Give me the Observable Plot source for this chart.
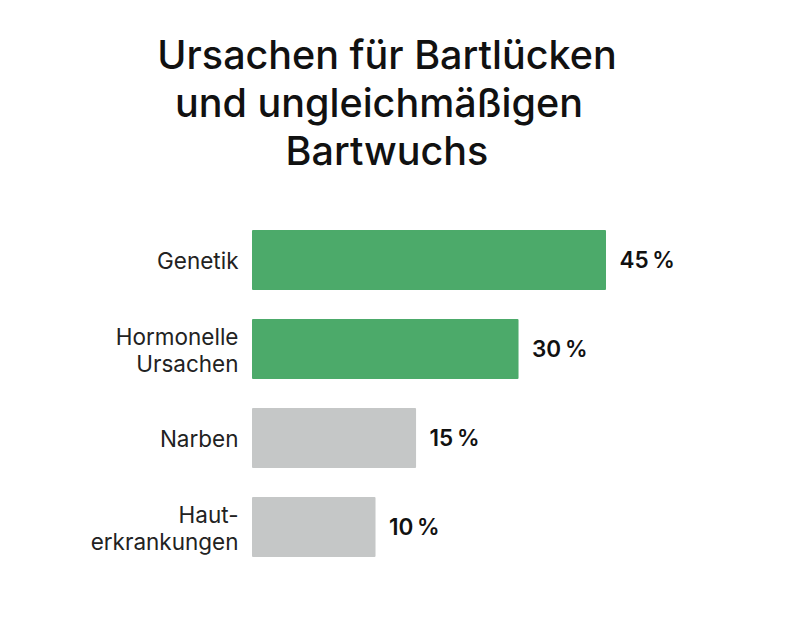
<!DOCTYPE html>
<html>
<head>
<meta charset="utf-8">
<script src="https://cdn.jsdelivr.net/npm/d3@7"></script>
<script src="https://cdn.jsdelivr.net/npm/@observablehq/plot@0.6"></script>
<style>
  html, body { margin: 0; padding: 0; background: #fff; }
  #wrap { width: 800px; height: 640px; overflow: hidden; }
  #title { box-sizing: border-box; width: 800px; padding: 31px 26px 0 0; margin: 0;
    font-family: Inter, "Noto Sans", sans-serif; font-weight: 500; font-size: 39.5px;
    line-height: 48px; color: #111; text-align: center; }
  #title div { white-space: pre; }
  #title .l2 { padding-right: 16px; }
</style>
</head>
<body>
<div id="wrap">
  <div id="title"><div>Ursachen für Bartlücken</div><div class="l2">und ungleichmäßigen</div><div>Bartwuchs</div></div>
  <div id="chart"></div>
</div>
<script>
const categories = ["Genetik", "Hormonelle\nUrsachen", "Narben", "Haut-\nerkrankungen"];
const values = [45, 30, 15, 10];
const groups = ["Haupt", "Haupt", "Neben", "Neben"];
const groupNames = ["Haupt", "Neben"];
const groupColors = ["#4caa6a", "#c5c7c7"];

const data = categories.map((c, i) => ({ category: c, value: values[i], group: groups[i] }));

const chart = Plot.plot({
  width: 800,
  height: 465,
  marginLeft: 0, marginRight: 0, marginTop: 0, marginBottom: 0,
  style: { fontFamily: "Inter, 'Noto Sans', sans-serif", background: "transparent" },
  x: { type: "pow", exponent: 0.7, domain: [0, 45], range: [252, 606], axis: null },
  y: { domain: categories, range: [55, 382], paddingInner: 0.33, paddingOuter: 0, axis: null },
  color: { domain: groupNames, range: groupColors },
  marks: [
    Plot.barX(data, { x: "value", y: "category", fill: "group", rx: 1 }),
    Plot.text(data, { x: 0, y: "category", text: "category", textAnchor: "end", dx: -14,
      fontSize: 22.5, lineHeight: 1.2, fill: "#222" }),
    Plot.text(data, { x: "value", y: "category", text: d => d.value + "\u2009%", textAnchor: "start", dx: 13,
      fontSize: 22.5, fontWeight: 600, fill: "#111" })
  ]
});
document.getElementById("chart").appendChild(chart);
</script>
</body>
</html>
